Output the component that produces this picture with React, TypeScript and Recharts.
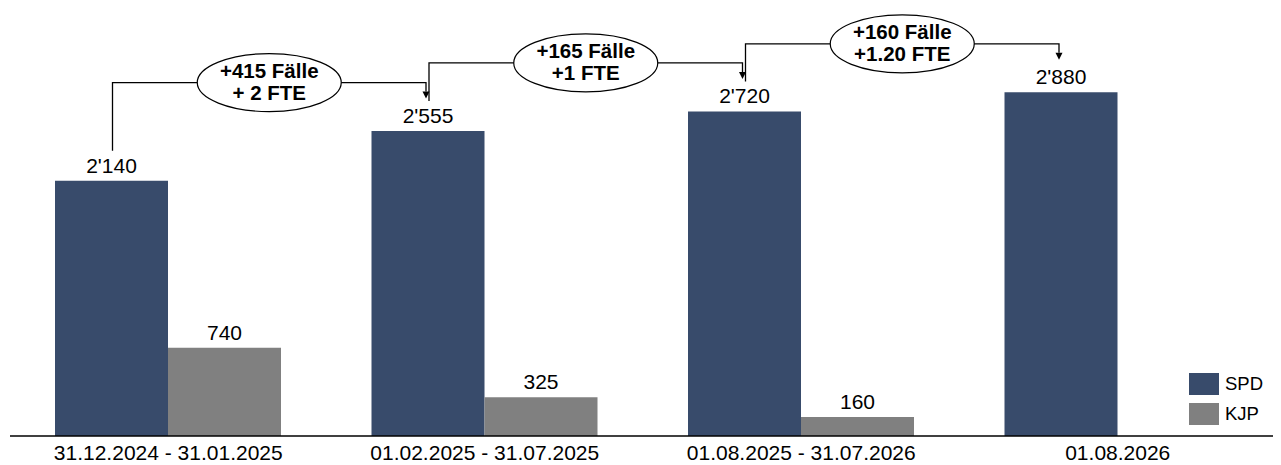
import React from 'react';
import { BarChart, Bar, XAxis, YAxis, LabelList } from 'recharts';

const categories = ['31.12.2024 - 31.01.2025', '01.02.2025 - 31.07.2025', '01.08.2025 - 31.07.2026', '01.08.2026'];
const spdValues = [2140, 2555, 2720, 2880];
const kjpValues: (number | null)[] = [740, 325, 160, null];
const seriesNames = ['SPD', 'KJP'];
const changeCases = ['+415 Fälle', '+165 Fälle', '+160 Fälle'];
const changeFte = ['+ 2 FTE', '+1 FTE', '+1.20 FTE'];

const W = 1273;
const H = 457;
const MARGIN = { top: 70, right: 5, left: 2, bottom: 4 };
const PLOT_W = W - MARGIN.left - MARGIN.right;
const BAND = PLOT_W / categories.length;
const FONT = '"Liberation Sans", Arial, Helvetica, sans-serif';
const SPD_COLOR = '#384b6b';
const KJP_COLOR = '#808080';

const data = categories.map((c, i) => ({ name: c, spd: spdValues[i], kjp: kjpValues[i] }));

function fmt(v: number) {
  if (v >= 1000) {
    return `${Math.floor(v / 1000)}'${String(v % 1000).padStart(3, '0')}`;
  }
  return String(v);
}

function getRect(props: any) {
  const vb = props.viewBox && props.viewBox.width !== undefined ? props.viewBox : props;
  return { x: Number(vb.x), y: Number(vb.y), width: Number(vb.width), height: Number(vb.height) };
}

const KjpLabel = (props: any) => {
  const { value } = props;
  if (value === null || value === undefined) return null;
  const r = getRect(props);
  return (
    <text x={r.x + r.width / 2} y={r.y - 8} textAnchor="middle" fontSize={21} fontFamily={FONT} fill="#000">
      {fmt(Number(value))}
    </text>
  );
};

const SpdLabel = (props: any) => {
  const { value, index } = props;
  if (value === null || value === undefined) return null;
  const r = getRect(props);
  const cx = r.x + r.width / 2;
  const v = Number(value);
  let annotation: React.ReactNode = null;
  if (index < spdValues.length - 1 && v > 0) {
    const ppu = r.height / v;
    const base = r.y + r.height;
    const nextTop = base - spdValues[index + 1] * ppu;
    const nextCx = cx + BAND;
    const startX = cx + 1;
    const arrowX = nextCx - 2;
    const lineY = nextTop - 48.5;
    const startBottom = r.y - 30;
    const tip = lineY + 16;
    const ex = (startX + arrowX) / 2;
    annotation = (
      <g>
        <path
          d={`M${startX},${startBottom} V${lineY} H${arrowX} V${tip - 7}`}
          fill="none"
          stroke="#000"
          strokeWidth={1.3}
        />
        <path d={`M${arrowX - 3.5},${tip - 7} L${arrowX + 3.5},${tip - 7} L${arrowX},${tip} Z`} fill="#000" />
        <ellipse cx={ex} cy={lineY} rx={72} ry={29} fill="#fff" stroke="#000" strokeWidth={1.2} />
        <text x={ex} y={lineY - 5} textAnchor="middle" fontSize={20.5} fontWeight="bold" fontFamily={FONT} fill="#000">
          {changeCases[index]}
        </text>
        <text x={ex} y={lineY + 17} textAnchor="middle" fontSize={20.5} fontWeight="bold" fontFamily={FONT} fill="#000">
          {changeFte[index]}
        </text>
      </g>
    );
  }
  return (
    <g>
      <text x={cx} y={r.y - 8} textAnchor="middle" fontSize={21} fontFamily={FONT} fill="#000">
        {fmt(v)}
      </text>
      {annotation}
    </g>
  );
};

export default function App() {
  const legendColors = [SPD_COLOR, KJP_COLOR];
  return (
    <div style={{ position: 'relative', width: W, height: H, fontFamily: FONT }}>
      <BarChart width={W} height={H} data={data} margin={MARGIN} barCategoryGap={45} barGap={0}>
        <XAxis
          dataKey="name"
          tickLine={false}
          tickSize={6}
          tickMargin={3}
          height={25}
          interval={0}
          axisLine={{ stroke: '#000', strokeWidth: 1.5 }}
          tick={{ fontSize: 21, fill: '#000', fontFamily: FONT }}
        />
        <YAxis hide domain={[0, 3000]} />
        <Bar dataKey="spd" name={seriesNames[0]} fill={SPD_COLOR} isAnimationActive={false}>
          <LabelList dataKey="spd" content={SpdLabel} />
        </Bar>
        <Bar dataKey="kjp" name={seriesNames[1]} fill={KJP_COLOR} isAnimationActive={false}>
          <LabelList dataKey="kjp" content={KjpLabel} />
        </Bar>
      </BarChart>
      <div style={{ position: 'absolute', left: 1181, top: 365 }}>
        {seriesNames.map((n, i) => (
          <div key={n} style={{ display: 'flex', alignItems: 'center', height: 22, marginBottom: 8 }}>
            <div style={{ width: 30, height: 22, background: legendColors[i] }} />
            <span style={{ marginLeft: 6, fontSize: 18.5, color: '#000', lineHeight: '22px' }}>{n}</span>
          </div>
        ))}
      </div>
    </div>
  );
}
